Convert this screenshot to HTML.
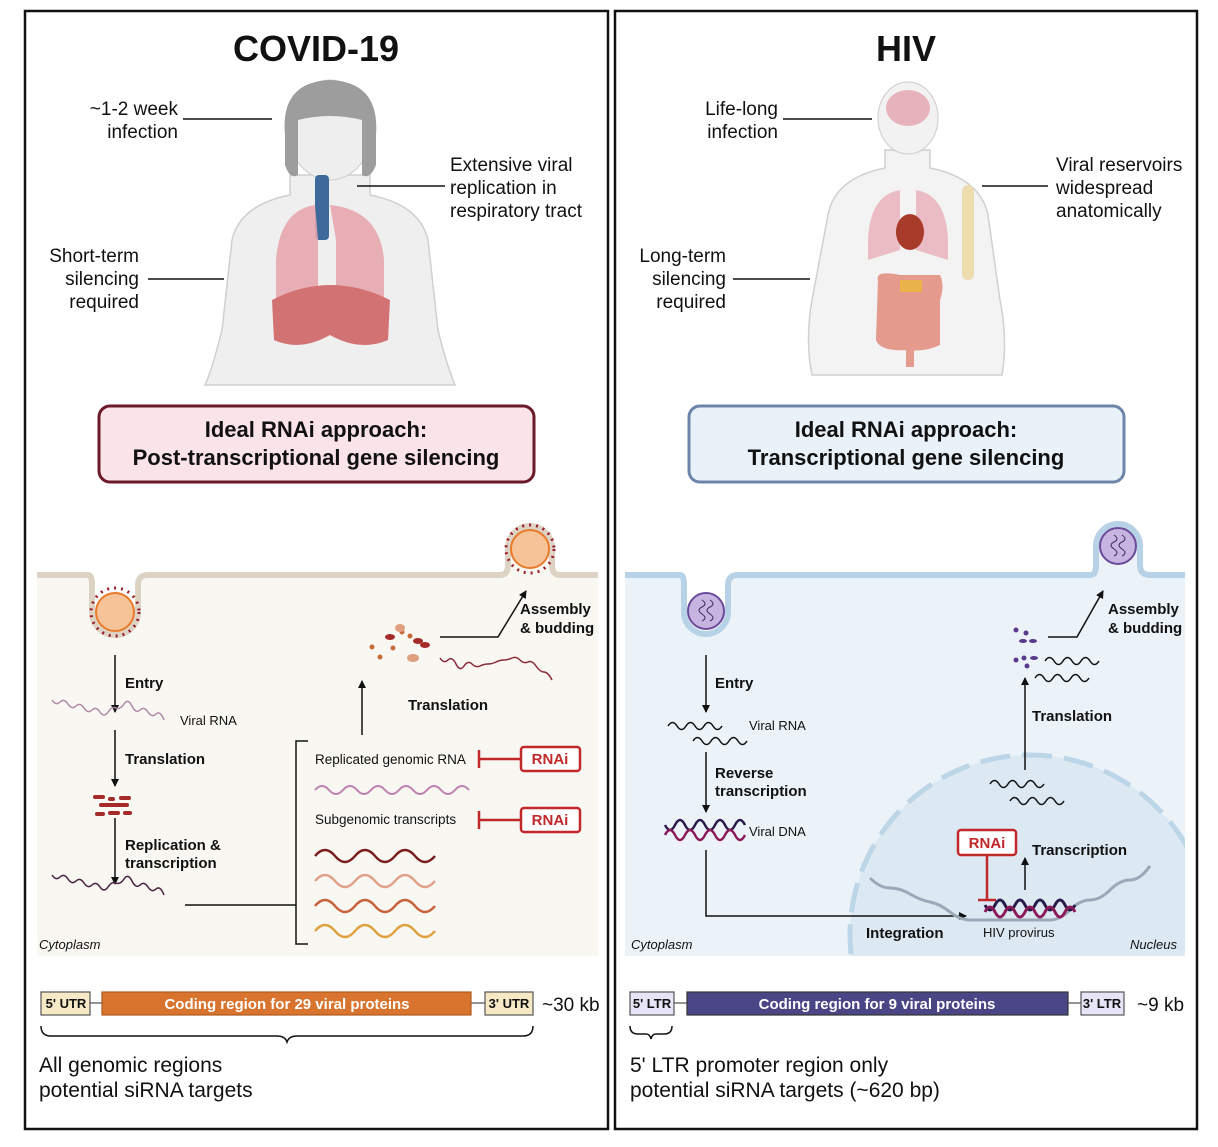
<!DOCTYPE html>
<html><head><meta charset="utf-8"><style>
html,body{margin:0;padding:0;background:#fff;}
svg{display:block;}
text{font-family:"Liberation Sans",sans-serif;fill:#111;}
</style></head><body>
<svg width="1218" height="1147" viewBox="0 0 1218 1147" xmlns="http://www.w3.org/2000/svg">
<defs>
<marker id="ar" markerWidth="8" markerHeight="8" refX="7" refY="4" orient="auto" markerUnits="userSpaceOnUse"><path d="M0,0 L8,4 L0,8 z" fill="#111"/></marker>
</defs>
<rect x="0" y="0" width="1218" height="1147" fill="#fff"/>
<rect x="25" y="11" width="583" height="1118" fill="#fff" stroke="#111" stroke-width="2.5"/>
<rect x="615" y="11" width="582" height="1118" fill="#fff" stroke="#111" stroke-width="2.5"/>

<text x="316" y="61" font-size="36" font-weight="bold" text-anchor="middle">COVID-19</text>
<text x="906" y="61" font-size="36" font-weight="bold" text-anchor="middle">HIV</text>

<!-- LEFT human -->
<g>
<path d="M290,175 L290,195 Q240,205 232,240 L222,330 Q212,370 205,385 L455,385 Q445,360 438,330 L428,240 Q420,205 370,195 L370,175 Z" fill="#efefef" stroke="#cfcfcf" stroke-width="1.5"/>
<ellipse cx="330" cy="130" rx="42" ry="50" fill="#eeeeee" stroke="#ccc"/>
<path d="M285,135 Q280,82 330,80 Q380,82 376,135 L376,165 Q370,180 362,175 L362,120 Q330,112 298,120 L298,175 Q290,180 285,165 Z" fill="#9d9d9d"/>
<rect x="315" y="175" width="14" height="65" fill="#3d6a9a" rx="4"/>
<path d="M315,205 Q280,210 276,260 L276,330 Q300,320 318,305 L318,240 Z" fill="#e6a7ae" opacity="0.9"/>
<path d="M330,205 Q380,210 384,260 L384,330 Q355,320 336,305 L336,240 Z" fill="#e6a7ae" opacity="0.9"/>
<path d="M272,300 Q330,270 390,300 L388,340 Q360,352 330,335 Q300,352 274,340 Z" fill="#d27272"/>
</g>
<line x1="183" y1="119" x2="272" y2="119" stroke="#111" stroke-width="1.5"/>
<line x1="357" y1="186" x2="445" y2="186" stroke="#111" stroke-width="1.5"/>
<line x1="148" y1="279" x2="224" y2="279" stroke="#111" stroke-width="1.5"/>
<g font-size="19" text-anchor="end">
<text x="178" y="115">~1-2 week</text><text x="178" y="138">infection</text>
<text x="139" y="262">Short-term</text><text x="139" y="285">silencing</text><text x="139" y="308">required</text>
</g>
<g font-size="19">
<text x="450" y="171">Extensive viral</text><text x="450" y="194">replication in</text><text x="450" y="217">respiratory tract</text>
</g>

<!-- RIGHT human -->
<g>
<path d="M885,150 L885,168 Q835,178 828,215 L812,300 Q805,340 812,375 L1002,375 Q1008,340 1000,300 L988,215 Q980,178 930,168 L930,150 Z" fill="#f3f3f3" stroke="#d0d0d0" stroke-width="1.5"/>
<ellipse cx="908" cy="118" rx="30" ry="36" fill="#f2f2f2" stroke="#ccc"/>
<ellipse cx="908" cy="108" rx="22" ry="18" fill="#e7b3bb"/>
<path d="M900,190 Q870,195 868,240 L868,260 L900,250 Z" fill="#ecbcc4"/>
<path d="M916,190 Q946,195 948,240 L948,260 L916,250 Z" fill="#ecbcc4"/>
<ellipse cx="910" cy="232" rx="14" ry="18" fill="#a83a2a"/>
<rect x="962" y="185" width="12" height="95" rx="6" fill="#ecdcae"/>
<path d="M878,280 Q875,270 900,275 L940,275 Q945,285 940,300 L940,345 Q925,352 910,350 Q880,352 876,340 Z" fill="#e59a8e"/>
<rect x="900" y="280" width="22" height="12" fill="#eab34a"/>
<rect x="906" y="345" width="8" height="22" fill="#e59a8e"/>
</g>
<line x1="783" y1="119" x2="872" y2="119" stroke="#111" stroke-width="1.5"/>
<line x1="982" y1="186" x2="1048" y2="186" stroke="#111" stroke-width="1.5"/>
<line x1="733" y1="279" x2="810" y2="279" stroke="#111" stroke-width="1.5"/>
<g font-size="19" text-anchor="end">
<text x="778" y="115">Life-long</text><text x="778" y="138">infection</text>
<text x="726" y="262">Long-term</text><text x="726" y="285">silencing</text><text x="726" y="308">required</text>
</g>
<g font-size="19">
<text x="1056" y="171">Viral reservoirs</text><text x="1056" y="194">widespread</text><text x="1056" y="217">anatomically</text>
</g>

<rect x="99" y="406" width="435" height="76" rx="11" fill="#fbe3ea" stroke="#6b1a2a" stroke-width="3"/>
<text x="316" y="437" font-size="22" font-weight="bold" text-anchor="middle">Ideal RNAi approach:</text>
<text x="316" y="465" font-size="22" font-weight="bold" text-anchor="middle">Post-transcriptional gene silencing</text>
<rect x="689" y="406" width="435" height="76" rx="11" fill="#e9f1f9" stroke="#6e85aa" stroke-width="3"/>
<text x="906" y="437" font-size="22" font-weight="bold" text-anchor="middle">Ideal RNAi approach:</text>
<text x="906" y="465" font-size="22" font-weight="bold" text-anchor="middle">Transcriptional gene silencing</text>

<!-- LEFT cell -->
<path d="M37,575 L88,575 Q92,575 92,585 L92,612 A23,23 0 0 0 138,612 L138,585 Q138,575 148,575 L500,575 Q508,575 508,565 L508,548 A22,22 0 0 1 552,548 L552,565 Q552,575 560,575 L598,575 L598,956 L37,956 Z" fill="#f8f7f2"/>
<path d="M37,575 L88,575 Q92,575 92,585 L92,612 A23,23 0 0 0 138,612 L138,585 Q138,575 148,575 L500,575 Q508,575 508,565 L508,548 A22,22 0 0 1 552,548 L552,565 Q552,575 560,575 L598,575" fill="none" stroke="#ddd3c4" stroke-width="6"/>
<circle cx="115" cy="612" r="24" fill="none" stroke="#9b1f2a" stroke-width="3" stroke-dasharray="2 5"/>
<circle cx="115" cy="612" r="19" fill="#f6c297" stroke="#e87a2a" stroke-width="2"/>
<circle cx="530" cy="549" r="24" fill="none" stroke="#9b1f2a" stroke-width="3" stroke-dasharray="2 5"/>
<circle cx="530" cy="549" r="19" fill="#f6c297" stroke="#e87a2a" stroke-width="2"/>
<g stroke="#111" stroke-width="1.5" fill="none" marker-end="url(#ar)">
<line x1="115" y1="655" x2="115" y2="712"/>
<line x1="115" y1="730" x2="115" y2="786"/>
<line x1="115" y1="818" x2="115" y2="884"/>
<line x1="362" y1="735" x2="362" y2="681"/>
<polyline points="440,637 498,637 526,591"/>
</g>
<g font-size="15" font-weight="bold">
<text x="125" y="688">Entry</text>
<text x="125" y="764">Translation</text>
<text x="125" y="850">Replication &amp;</text>
<text x="125" y="868">transcription</text>
<text x="408" y="710">Translation</text>
<text x="520" y="614">Assembly</text>
<text x="520" y="633">&amp; budding</text>
</g>
<text x="180" y="725" font-size="13">Viral RNA</text>
<path d="M52,700 q4,6 8,2 t8,2 t8,2 t8,2 t8,2 t8,2 t8,0 t8,-4 t8,-4 t8,2 t8,4 t8,2 t8,2 t8,6" fill="none" stroke="#b08aa8" stroke-width="1.5"/>
<path d="M52,875 q4,6 8,2 t8,2 t8,2 t8,2 t8,2 t8,2 t8,0 t8,-4 t8,-4 t8,2 t8,4 t8,2 t8,2 t8,6" fill="none" stroke="#4a2040" stroke-width="1.5"/>
<g fill="#a52a2a">
<rect x="93" y="795" width="12" height="4" rx="2"/><rect x="108" y="797" width="7" height="4" rx="2"/><rect x="119" y="796" width="12" height="4" rx="2"/>
<rect x="99" y="803" width="30" height="4" rx="2"/>
<rect x="95" y="812" width="10" height="4" rx="2"/><rect x="108" y="811" width="12" height="4" rx="2"/><rect x="123" y="811" width="9" height="4" rx="2"/>
</g>
<g fill="#c86a3a">
<circle cx="372" cy="647" r="2.5"/><circle cx="380" cy="657" r="2.5"/><circle cx="393" cy="648" r="2.5"/><circle cx="402" cy="632" r="2.5"/><circle cx="410" cy="636" r="2.5"/>
<ellipse cx="390" cy="637" rx="5" ry="3" fill="#a52a2a"/><ellipse cx="418" cy="641" rx="5" ry="3" fill="#a52a2a"/><ellipse cx="425" cy="645" rx="5" ry="3" fill="#a52a2a"/>
<ellipse cx="400" cy="628" rx="5" ry="4" fill="#e0a080"/><ellipse cx="413" cy="658" rx="6" ry="4" fill="#e0a080"/>
</g>
<path d="M440,658 q4,6 8,2 t8,4 t8,2 t8,-2 t8,2 t8,-2 t8,-2 t8,-2 t8,-2 t8,2 t8,2 t8,4 t8,6 t8,8" fill="none" stroke="#8a2a3a" stroke-width="1.5"/>
<polyline points="185,905 296,905" stroke="#111" stroke-width="1.5"/>
<polyline points="308,741 296,741 296,944 308,944" fill="none" stroke="#111" stroke-width="1.5"/>
<text x="315" y="764" font-size="13.5">Replicated genomic RNA</text>
<text x="315" y="824" font-size="13.5">Subgenomic transcripts</text>
<g stroke="#c0282a" stroke-width="2.5" fill="none">
<line x1="479" y1="759" x2="521" y2="759"/><line x1="479" y1="750" x2="479" y2="768"/>
<line x1="479" y1="820" x2="521" y2="820"/><line x1="479" y1="811" x2="479" y2="829"/>
<rect x="521" y="747" width="59" height="24" rx="3" fill="#fff"/>
<rect x="521" y="808" width="59" height="24" rx="3" fill="#fff"/>
</g>
<text x="550" y="764" font-size="15" font-weight="bold" text-anchor="middle" style="fill:#c0282a">RNAi</text>
<text x="550" y="825" font-size="15" font-weight="bold" text-anchor="middle" style="fill:#c0282a">RNAi</text>
<path d="M315,790 q7,-8 14,0 t14,0 t14,0 t14,0 t14,0 t14,0 t14,0 t14,0 t14,0 t14,0 t14,0" fill="none" stroke="#c080b0" stroke-width="2"/>
<path d="M315,856 q10,-12 20,0 t20,0 t20,0 t20,0 t20,0 t20,0" fill="none" stroke="#7a1d1d" stroke-width="2.5"/>
<path d="M315,881 q10,-12 20,0 t20,0 t20,0 t20,0 t20,0 t20,0" fill="none" stroke="#e0a08a" stroke-width="2.5"/>
<path d="M315,906 q10,-12 20,0 t20,0 t20,0 t20,0 t20,0 t20,0" fill="none" stroke="#c8603a" stroke-width="2.5"/>
<path d="M315,931 q10,-12 20,0 t20,0 t20,0 t20,0 t20,0 t20,0" fill="none" stroke="#e0a040" stroke-width="2.5"/>
<text x="39" y="949" font-size="13" font-style="italic">Cytoplasm</text>

<!-- RIGHT cell -->
<path d="M625,575 L680,575 Q684,575 684,585 L684,612 A22,22 0 0 0 728,612 L728,585 Q728,575 738,575 L1090,575 Q1096,575 1096,565 L1096,546 A22,22 0 0 1 1140,546 L1140,565 Q1140,575 1150,575 L1185,575 L1185,956 L625,956 Z" fill="#ebf3f9"/>
<path d="M625,575 L680,575 Q684,575 684,585 L684,612 A22,22 0 0 0 728,612 L728,585 Q728,575 738,575 L1090,575 Q1096,575 1096,565 L1096,546 A22,22 0 0 1 1140,546 L1140,565 Q1140,575 1150,575 L1185,575" fill="none" stroke="#b7d2e6" stroke-width="6"/>
<clipPath id="cl"><rect x="625" y="700" width="560" height="256"/></clipPath>
<g clip-path="url(#cl)">
<circle cx="1030" cy="935" r="180" fill="#dce9f3" stroke="#bcd6e8" stroke-width="5" stroke-dasharray="30 12"/>
</g>
<circle cx="706" cy="611" r="18" fill="#c8b4e0" stroke="#6a4a9a" stroke-width="2"/>
<circle cx="1118" cy="546" r="18" fill="#c8b4e0" stroke="#6a4a9a" stroke-width="2"/>
<path d="M702,600 q6,4 0,7 t0,7 t0,7 M710,600 q6,4 0,7 t0,7 t0,7" stroke="#3a2a5a" fill="none"/>
<path d="M1114,535 q6,4 0,7 t0,7 t0,7 M1122,535 q6,4 0,7 t0,7 t0,7" stroke="#3a2a5a" fill="none"/>
<g stroke="#111" stroke-width="1.5" fill="none" marker-end="url(#ar)">
<line x1="706" y1="655" x2="706" y2="712"/>
<line x1="706" y1="752" x2="706" y2="812"/>
<polyline points="706,850 706,916 966,916"/>
<line x1="1025" y1="890" x2="1025" y2="858"/>
<line x1="1025" y1="770" x2="1025" y2="678"/>
<polyline points="1048,637 1077,637 1103,591"/>
</g>
<g font-size="15" font-weight="bold">
<text x="715" y="688">Entry</text>
<text x="715" y="778">Reverse</text>
<text x="715" y="796">transcription</text>
<text x="866" y="938">Integration</text>
<text x="1032" y="855">Transcription</text>
<text x="1032" y="721">Translation</text>
<text x="1108" y="614">Assembly</text>
<text x="1108" y="633">&amp; budding</text>
</g>
<text x="749" y="730" font-size="13">Viral RNA</text>
<text x="749" y="836" font-size="13">Viral DNA</text>
<text x="983" y="937" font-size="13">HIV provirus</text>
<text x="631" y="949" font-size="13" font-style="italic">Cytoplasm</text>
<text x="1130" y="949" font-size="13" font-style="italic">Nucleus</text>
<g fill="none" stroke="#111" stroke-width="1.5">
<path d="M668,726 q4.5,-7 9,0 t9,0 t9,0 t9,0 t9,0 t9,0"/>
<path d="M693,741 q4.5,-7 9,0 t9,0 t9,0 t9,0 t9,0 t9,0"/>
<path d="M990,784 q4.5,-7 9,0 t9,0 t9,0 t9,0 t9,0 t9,0"/>
<path d="M1010,801 q4.5,-7 9,0 t9,0 t9,0 t9,0 t9,0 t9,0"/>
<path d="M1045,661 q4.5,-7 9,0 t9,0 t9,0 t9,0 t9,0 t9,0"/>
<path d="M1035,678 q4.5,-7 9,0 t9,0 t9,0 t9,0 t9,0 t9,0"/>
</g>
<path d="M665,825 q5,10 10,0 t10,0 t10,0 t10,0 t10,0 t10,0 t10,0 t10,0" fill="none" stroke="#2a1a4a" stroke-width="2.5"/>
<path d="M665,835 q5,-10 10,0 t10,0 t10,0 t10,0 t10,0 t10,0 t10,0 t10,0" fill="none" stroke="#8a1a5a" stroke-width="2.5"/>
<path d="M870,878 q10,10 20,10 t20,6 t20,8 t20,10 t20,8 t20,0 t20,0 t20,0 t20,0 t20,-10 t20,-10 t20,-10 t20,-10 t20,-14" fill="none" stroke="#9aa8b8" stroke-width="3"/>
<path d="M985,905 q5,10 10,0 t10,0 t10,0 t10,0 t10,0 t10,0 t10,0 t10,0 t10,0" fill="none" stroke="#2a1a4a" stroke-width="3"/>
<path d="M985,912 q5,-10 10,0 t10,0 t10,0 t10,0 t10,0 t10,0 t10,0 t10,0 t10,0" fill="none" stroke="#8a1a5a" stroke-width="3"/>
<g fill="#5a3a8a">
<circle cx="1016" cy="630" r="2.5"/><circle cx="1026" cy="633" r="2.5"/><ellipse cx="1023" cy="641" rx="4" ry="2"/><ellipse cx="1033" cy="641" rx="4" ry="2"/>
<circle cx="1016" cy="660" r="2.5"/><circle cx="1024" cy="658" r="2.5"/><ellipse cx="1034" cy="658" rx="4" ry="2"/><circle cx="1027" cy="666" r="2.5"/>
</g>
<g stroke="#c0282a" stroke-width="2.5" fill="none">
<line x1="987" y1="855" x2="987" y2="900"/><line x1="978" y1="900" x2="996" y2="900"/>
<rect x="958" y="830" width="58" height="25" rx="3" fill="#fff"/>
</g>
<text x="987" y="848" font-size="15" font-weight="bold" text-anchor="middle" style="fill:#c0282a">RNAi</text>

<!-- genome bars left -->
<g stroke="#555" stroke-width="1.2">
<line x1="90" y1="1003" x2="485" y2="1003"/>
<rect x="41" y="992" width="49" height="23" fill="#f7e9c6"/>
<rect x="102" y="992" width="369" height="23" fill="#d9742e" stroke="#b05a20"/>
<rect x="485" y="992" width="48" height="23" fill="#f7e9c6"/>
</g>
<g font-size="13" font-weight="bold" text-anchor="middle">
<text x="66" y="1008">5' UTR</text><text x="509" y="1008">3' UTR</text>
<text x="287" y="1009" font-size="15" style="fill:#fff">Coding region for 29 viral proteins</text>
</g>
<text x="542" y="1011" font-size="19">~30 kb</text>
<path d="M41,1026 q0,10 10,10 L277,1036 q8,0 10,6 q2,-6 10,-6 L523,1036 q10,0 10,-10" fill="none" stroke="#111" stroke-width="1.5"/>
<text x="39" y="1072" font-size="21">All genomic regions</text>
<text x="39" y="1097" font-size="21">potential siRNA targets</text>

<!-- genome bars right -->
<g stroke="#555" stroke-width="1.2">
<line x1="674" y1="1003" x2="1081" y2="1003"/>
<rect x="630" y="992" width="44" height="23" fill="#e6e4f6"/>
<rect x="687" y="992" width="381" height="23" fill="#4a4585" stroke="#333"/>
<rect x="1081" y="992" width="43" height="23" fill="#e6e4f6"/>
</g>
<g font-size="13" font-weight="bold" text-anchor="middle">
<text x="652" y="1008">5' LTR</text><text x="1102" y="1008">3' LTR</text>
<text x="877" y="1009" font-size="15" style="fill:#fff">Coding region for 9 viral proteins</text>
</g>
<text x="1137" y="1011" font-size="19">~9 kb</text>
<path d="M630,1026 q0,8 8,8 L646,1034 q4,0 5,5 q1,-5 5,-5 L664,1034 q8,0 8,-8" fill="none" stroke="#111" stroke-width="1.5"/>
<text x="630" y="1072" font-size="21">5' LTR promoter region only</text>
<text x="630" y="1097" font-size="21">potential siRNA targets (~620 bp)</text>
</svg>
</body></html>
